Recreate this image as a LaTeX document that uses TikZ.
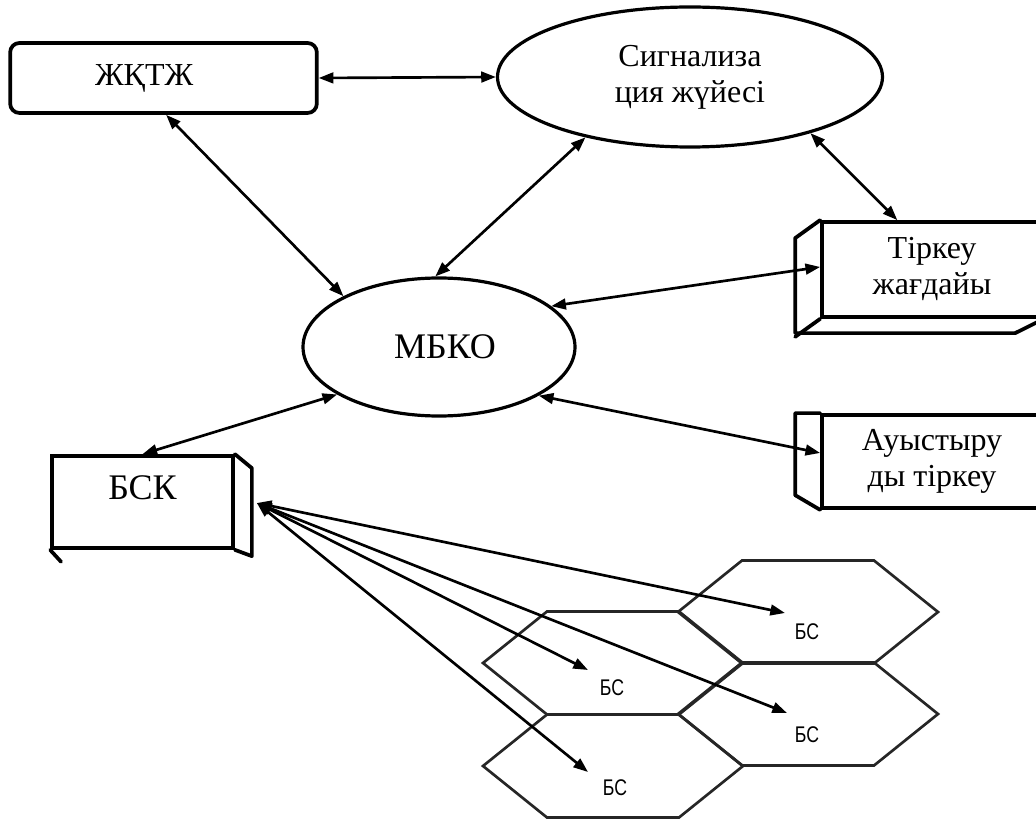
\documentclass[tikz,border=0pt]{standalone}
\usepackage{fontspec}
\setmainfont{Liberation Serif}
\newfontfamily\bsfont{Liberation Sans}
\usepackage{graphicx}
\usetikzlibrary{arrows.meta,calc,shapes.geometric}
\begin{document}
\begin{tikzpicture}[x=0.75pt,y=-0.75pt,
  conn/.style={{Triangle[length=11pt,width=8pt]}-{Triangle[length=11pt,width=8pt]}, line width=2pt},
  txt/.style={font=\fontsize{24}{27}\selectfont},
  bigtxt/.style={font=\fontsize{27}{30}\selectfont},
  rbox/.style={draw, line width=2.8pt, rounded corners=7pt, inner sep=0pt, txt},
  ell/.style={draw, ellipse, line width=2.4pt, inner sep=0pt, fill=white},
  fbox/.style={draw, line width=2.8pt, inner sep=0pt, align=center, txt},
  edgethree/.style={line width=2.8pt, line join=round, line cap=round},
  hexline/.style={line width=2pt, draw=black!85},
  bs/.style={inner sep=0pt, font=\bsfont\fontsize{17}{17}\selectfont},
  hexcell/.pic={\draw[hexline] (-130,0) -- (-66,-51.5) -- (66,-51.5) -- (130,0) -- (66,51.5) -- (-66,51.5) -- cycle;}
]
\useasboundingbox (0,0) rectangle (1036,823);

% hexagonal cells
\pic at (808,612) {hexcell};
\pic at (613,663) {hexcell};
\pic at (808,714) {hexcell};
\pic at (613,766) {hexcell};

\node[bs] (b1) at (807,632) {\scalebox{0.78}[1]{БС}};
\node[bs] (b2) at (612,688) {\scalebox{0.78}[1]{БС}};
\node[bs] (b3) at (807,735) {\scalebox{0.78}[1]{БС}};
\node[bs] (b4) at (615,788) {\scalebox{0.78}[1]{БС}};

\coordinate (t1) at (785,613);
\coordinate (t2) at (588,670);
\coordinate (t3) at (787,713);
\coordinate (t4) at (588,772);

% main nodes
\node[rbox, minimum width=230pt, minimum height=52.5pt] (jktj) at (163.5,78) {\hspace*{-29pt}ЖҚТЖ};
\node[ell, txt, align=center, minimum width=288.75pt, minimum height=105pt] (sig) at (690,77) {Сигнализа\\ция жүйесі};
\node[ell, bigtxt, minimum width=204pt, minimum height=103.5pt] (mbko) at (439,347) {\hspace*{9pt}МБКО};
\node[fbox, minimum width=165pt, minimum height=71.25pt] (tirk) at (932,269.5) {Тіркеу\\жағдайы};
\node[fbox, minimum width=165pt, minimum height=69.75pt] (auys) at (932,461.5) {Ауыстыру\\ды тіркеу};
\node[fbox, bigtxt, minimum width=135.75pt, minimum height=69pt] (bsk) at (142.5,502) {\raisebox{21pt}{БСК}};

% 3D faces
\draw[edgethree] (tirk.north west) -- ++(-25,18) -- ++(0,95) -- ++(220,0) -- (tirk.south east);
\draw[edgethree] (tirk.south west) -- ++(-25,18);
\draw[edgethree] (auys.north west) -- ++(-25,0) -- ++(0,82) -- (auys.south west);
\draw[edgethree] (bsk.north east) -- ++(17,14) -- ++(0,88) -- (bsk.south east);
\draw[edgethree] (bsk.south west) -- ++(11,12);

% connectors
\draw[conn] ([xshift=2pt]jktj.south) -- (mbko.152);
\draw[conn] (jktj.east) -- (sig.west);
\draw[conn] (sig.210) -- (mbko.93);
\draw[conn] (sig.-25) -- ([xshift=-26pt]tirk.north);
\draw[conn] (mbko.20) -- ([yshift=1.9pt]tirk.west);
\draw[conn] (mbko.-26) -- ([yshift=6.4pt]auys.west);
\draw[conn] (mbko.205) -- (bsk.north);
\foreach \t in {t1,t2,t3,t4}
  \draw[conn] ([xshift=16.5pt,yshift=-0.75pt]bsk.east) -- (\t);
\end{tikzpicture}
\end{document}
